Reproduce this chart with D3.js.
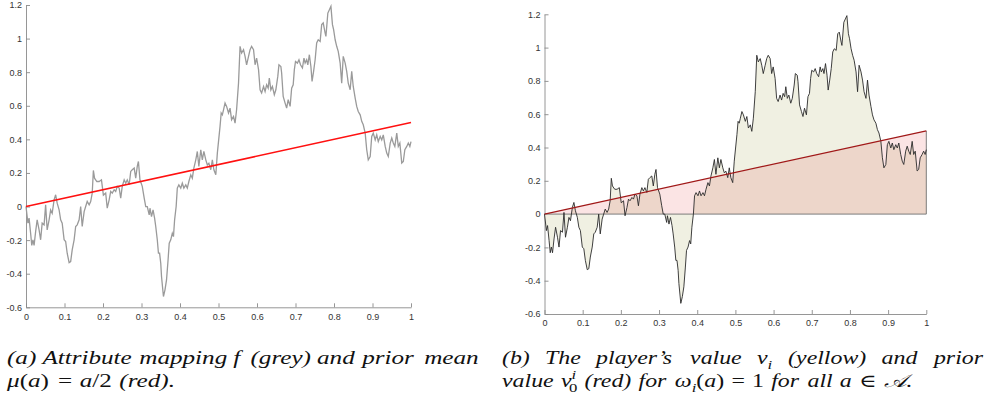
<!DOCTYPE html>
<html><head><meta charset="utf-8">
<script src="https://cdn.jsdelivr.net/npm/d3@7"></script>
<style>body{margin:0;background:#fff} svg{display:block}</style>
</head><body>
<svg id="c" width="991" height="403"></svg>
<script>
// ---------- DATA ----------
const attrA = [0,0.005,0.008,0.012,0.015,0.018,0.021,0.025,0.029,0.034,0.038,0.042,0.047,0.051,0.055,0.060,0.064,0.068,0.073,0.077,0.081,0.086,0.090,0.094,0.099,0.103,0.107,0.112,0.116,0.120,0.125,0.129,0.133,0.138,0.142,0.146,0.151,0.155,0.159,0.164,0.168,0.172,0.175,0.178,0.184,0.190,0.196,0.201,0.207,0.211,0.216,0.220,0.224,0.229,0.233,0.237,0.242,0.246,0.250,0.255,0.259,0.263,0.268,0.272,0.276,0.281,0.285,0.289,0.292,0.296,0.302,0.307,0.311,0.315,0.320,0.322,0.326,0.330,0.334,0.337,0.341,0.344,0.347,0.350,0.352,0.357,0.361,0.365,0.369,0.372,0.376,0.380,0.383,0.386,0.390,0.393,0.397,0.402,0.406,0.410,0.415,0.419,0.423,0.428,0.432,0.436,0.441,0.445,0.449,0.454,0.458,0.462,0.467,0.471,0.475,0.480,0.484,0.488,0.493,0.497,0.504,0.507,0.510,0.513,0.517,0.521,0.526,0.530,0.534,0.539,0.543,0.547,0.552,0.556,0.560,0.565,0.569,0.573,0.578,0.582,0.586,0.591,0.595,0.599,0.604,0.608,0.612,0.617,0.621,0.625,0.629,0.632,0.636,0.640,0.645,0.649,0.654,0.657,0.662,0.664,0.668,0.673,0.677,0.681,0.686,0.690,0.694,0.697,0.700,0.705,0.709,0.713,0.718,0.722,0.725,0.729,0.732,0.736,0.740,0.743,0.747,0.751,0.755,0.759,0.764,0.768,0.772,0.777,0.779,0.784,0.788,0.792,0.796,0.799,0.803,0.807,0.811,0.816,0.820,0.824,0.829,0.833,0.837,0.842,0.846,0.850,0.855,0.859,0.863,0.868,0.872,0.876,0.881,0.885,0.889,0.894,0.898,0.902,0.907,0.911,0.915,0.920,0.924,0.928,0.933,0.937,0.941,0.946,0.950,0.954,0.958,0.963,0.967,0.971,0.976,0.980,0.984,0.989,0.993,0.997,1.000];
const attrF = [0,-0.099,-0.069,-0.159,-0.232,-0.198,-0.232,-0.149,-0.079,-0.139,-0.198,-0.099,-0.109,0.010,-0.139,-0.079,-0.020,-0.040,0.040,0.070,0.020,-0.020,-0.079,-0.099,-0.198,-0.208,-0.278,-0.334,-0.328,-0.258,-0.198,-0.119,-0.109,-0.079,0.000,-0.119,-0.030,0.000,0.030,0.010,0.030,0.080,0.215,0.169,0.149,0.149,0.159,0.068,0.080,-0.010,0.040,0.090,0.080,0.100,0.090,0.120,0.110,0.050,0.120,0.159,0.139,0.159,0.130,0.209,0.219,0.229,0.169,0.239,0.268,0.159,0.120,0.050,0.000,0.000,-0.050,-0.010,-0.060,-0.020,-0.069,-0.119,-0.198,-0.278,-0.278,-0.338,-0.417,-0.536,-0.496,-0.437,-0.318,-0.218,-0.198,-0.159,-0.179,-0.079,0.000,0.110,0.129,0.110,0.139,0.110,0.129,0.110,0.149,0.189,0.169,0.229,0.278,0.328,0.239,0.338,0.278,0.328,0.278,0.248,0.258,0.219,0.278,0.219,0.189,0.318,0.477,0.557,0.546,0.576,0.616,0.596,0.557,0.586,0.517,0.536,0.497,0.576,0.735,0.954,0.914,0.934,0.894,0.844,0.894,0.934,0.954,0.934,0.844,0.884,0.815,0.695,0.676,0.715,0.685,0.725,0.705,0.765,0.695,0.715,0.666,0.695,0.775,0.844,0.834,0.795,0.656,0.616,0.586,0.636,0.596,0.705,0.725,0.815,0.864,0.854,0.874,0.844,0.825,0.884,0.854,0.874,0.844,0.904,0.834,0.745,0.805,0.874,0.974,0.993,0.983,1.083,1.093,1.033,1.013,1.152,1.172,1.192,1.083,1.053,0.993,0.954,0.924,0.854,0.735,0.894,0.854,0.805,0.735,0.695,0.805,0.715,0.646,0.596,0.566,0.546,0.507,0.487,0.437,0.338,0.278,0.298,0.417,0.437,0.397,0.427,0.387,0.417,0.397,0.427,0.358,0.318,0.298,0.378,0.408,0.378,0.358,0.437,0.358,0.378,0.259,0.268,0.338,0.358,0.378,0.358,0.387];
const priorA = [0, 1];
const priorMu = [0, 0.5];
const xTicks = [0,0.1,0.2,0.3,0.4,0.5,0.6,0.7,0.8,0.9,1];
const xTickLabels = ["0","0.1","0.2","0.3","0.4","0.5","0.6","0.7","0.8","0.9","1"];
const yTicks = [-0.6,-0.4,-0.2,0,0.2,0.4,0.6,0.8,1,1.2];
const yTickLabels = ["-0.6","-0.4","-0.2","0","0.2","0.4","0.6","0.8","1","1.2"];

// caption words: [text, style]
const captionA1 = [[["(a)","i"]],[["Attribute","i"]],[["mapping","i"]],[["f","i"]],[["(grey)","i"]],[["and","i"]],[["prior","i"]],[["mean","i"]]];
const captionA2 = [[["μ","i"],["(","r"],["a","i"],[")","r"]],[["=","r"]],[["a","i"],["/2","r"]],[["(red).","i"]]];
const captionB1 = [[["(b)","i"]],[["The","i"]],[["player’s","i"]],[["value","i"]],[["v","i"],["i","sub"]],[["(yellow)","i"]],[["and","i"]],[["prior","i"]]];
const captionB2 = [[["value","i"]],[["ν","i"],["i","sup"],["0","subrb"]],[["(red)","i"]],[["for","i"]],[["ω","i"],["i","sub"],["(","r"],["a","i"],[")","r"]],[["=","r"]],[["1","r"]],[["for","i"]],[["all","i"]],[["a","i"]],[["∈","r"]],[["𝒜.","i"]]];

// ---------- DRAW ----------
const svg = d3.select("#c");
const curve = attrA.map((a,i)=>({a, v: attrF[i]}));
const prior = priorA.map((a,i)=>({a, v: priorMu[i]}));

function axes(g, x, y, labelPad){
  const ax = g.append("g").attr("transform",`translate(0,${y(-0.6)})`)
    .call(d3.axisBottom(x).tickValues(xTicks).tickFormat((d,i)=>xTickLabels[i]).tickSizeInner(-4).tickSizeOuter(0).tickPadding(labelPad));
  const ay = g.append("g").attr("transform",`translate(${x(0)},0)`)
    .call(d3.axisLeft(y).tickValues(yTicks).tickFormat((d,i)=>yTickLabels[i]).tickSizeInner(-4).tickSizeOuter(0).tickPadding(4));
  [ax, ay].forEach(a=>{
    a.attr("font-family","'Liberation Sans', Arial, sans-serif").attr("font-size",9);
    a.selectAll("path,line").attr("stroke","#8a8a8a").attr("stroke-width",0.9);
    a.selectAll("text").attr("fill","#333");
  });
}

// Panel (a)
{
  const x = d3.scaleLinear().domain([0,1]).range([26,411]);
  const y = d3.scaleLinear().domain([-0.6,1.2]).range([307.3,5]);
  const g = svg.append("g");
  axes(g, x, y, 6.5);
  g.append("path").datum(curve).attr("fill","none").attr("stroke","#9a9a9a").attr("stroke-width",1.3)
    .attr("d", d3.line().x(d=>x(d.a)).y(d=>y(d.v)));
  g.append("path").datum(prior).attr("fill","none").attr("stroke","#ff1010").attr("stroke-width",1.5)
    .attr("d", d3.line().x(d=>x(d.a)).y(d=>y(d.v)));
}

// Panel (b)
{
  const x = d3.scaleLinear().domain([0,1]).range([544.5,926.3]);
  const y = d3.scaleLinear().domain([-0.6,1.2]).range([314,14.3]);
  const g = svg.append("g");
  axes(g, x, y, 5.5);
  g.append("path").datum(curve).attr("fill","#f0f0e2").attr("stroke","none")
    .attr("d", d3.area().x(d=>x(d.a)).y0(y(0)).y1(d=>y(d.v)));
  g.append("path").datum(prior).attr("fill","rgba(222,30,30,0.12)").attr("stroke","none")
    .attr("d", d3.area().x(d=>x(d.a)).y0(y(0)).y1(d=>y(d.v)));
  const edge = [{a:priorA[0],v:0},{a:priorA[1],v:0},{a:priorA[1],v:priorMu[1]}];
  g.append("path").datum(edge).attr("fill","none").attr("stroke","#6e6e6e").attr("stroke-width",0.9)
    .attr("d", d3.line().x(d=>x(d.a)).y(d=>y(d.v)));
  g.append("path").datum(curve).attr("fill","none").attr("stroke","#2a2a2a").attr("stroke-width",0.9)
    .attr("d", d3.line().x(d=>x(d.a)).y(d=>y(d.v)));
  g.append("path").datum(prior).attr("fill","none").attr("stroke","#a01818").attr("stroke-width",1.2)
    .attr("d", d3.line().x(d=>x(d.a)).y(d=>y(d.v)));
}

// Captions
const FS = 18;
function renderWord(g, segs){
  const t = g.append("text").attr("font-size",FS).attr("fill","#111")
    .attr("font-family","'Liberation Serif','DejaVu Serif',serif");
  let cur = 0;
  segs.forEach(([txt,st])=>{
    let off=0, size=FS, ital=true, dx=0;
    if(st==="r") ital=false;
    if(st==="sub"){off=0.28*FS; size=0.7*FS;}
    if(st==="sup"){off=-0.4*FS; size=0.7*FS;}
    if(st==="subrb"){off=0.3*FS; size=0.7*FS; ital=false; dx=-0.3*FS;}
    t.append("tspan").text(txt).attr("dy",off-cur).attr("dx",dx)
      .attr("font-size",size).attr("font-style",ital?"italic":"normal");
    cur = off;
  });
  return t;
}
function caption(line1, line2, x0, x1, x2, y1, y2){
  const g = svg.append("g");
  const w1 = line1.map(w=>renderWord(g,w)), w2 = line2.map(w=>renderWord(g,w));
  const wid = ts => ts.map(t=>t.node().getBBox().width);
  const a1 = wid(w1), a2 = wid(w2);
  const sp = 0.3*FS;
  const sx = (x2-x0)/(d3.sum(a2)+(a2.length-1)*sp);
  function place(ts, ws, y, gap){
    let xx = x0;
    ts.forEach((t,i)=>{ t.attr("transform",`translate(${xx},${y}) scale(${sx},1)`); xx += ws[i]*sx + gap; });
  }
  place(w2, a2, y2, sp*sx);
  const gap1 = Math.max(sp*sx*0.8, (x1 - x0 - sx*d3.sum(a1))/(a1.length-1));
  place(w1, a1, y1, gap1);
}
caption(captionA1, captionA2, 7, 470, 175, 364, 387);
caption(captionB1, captionB2, 502, 987, 913, 363.5, 386.5);
</script>
</body></html>
